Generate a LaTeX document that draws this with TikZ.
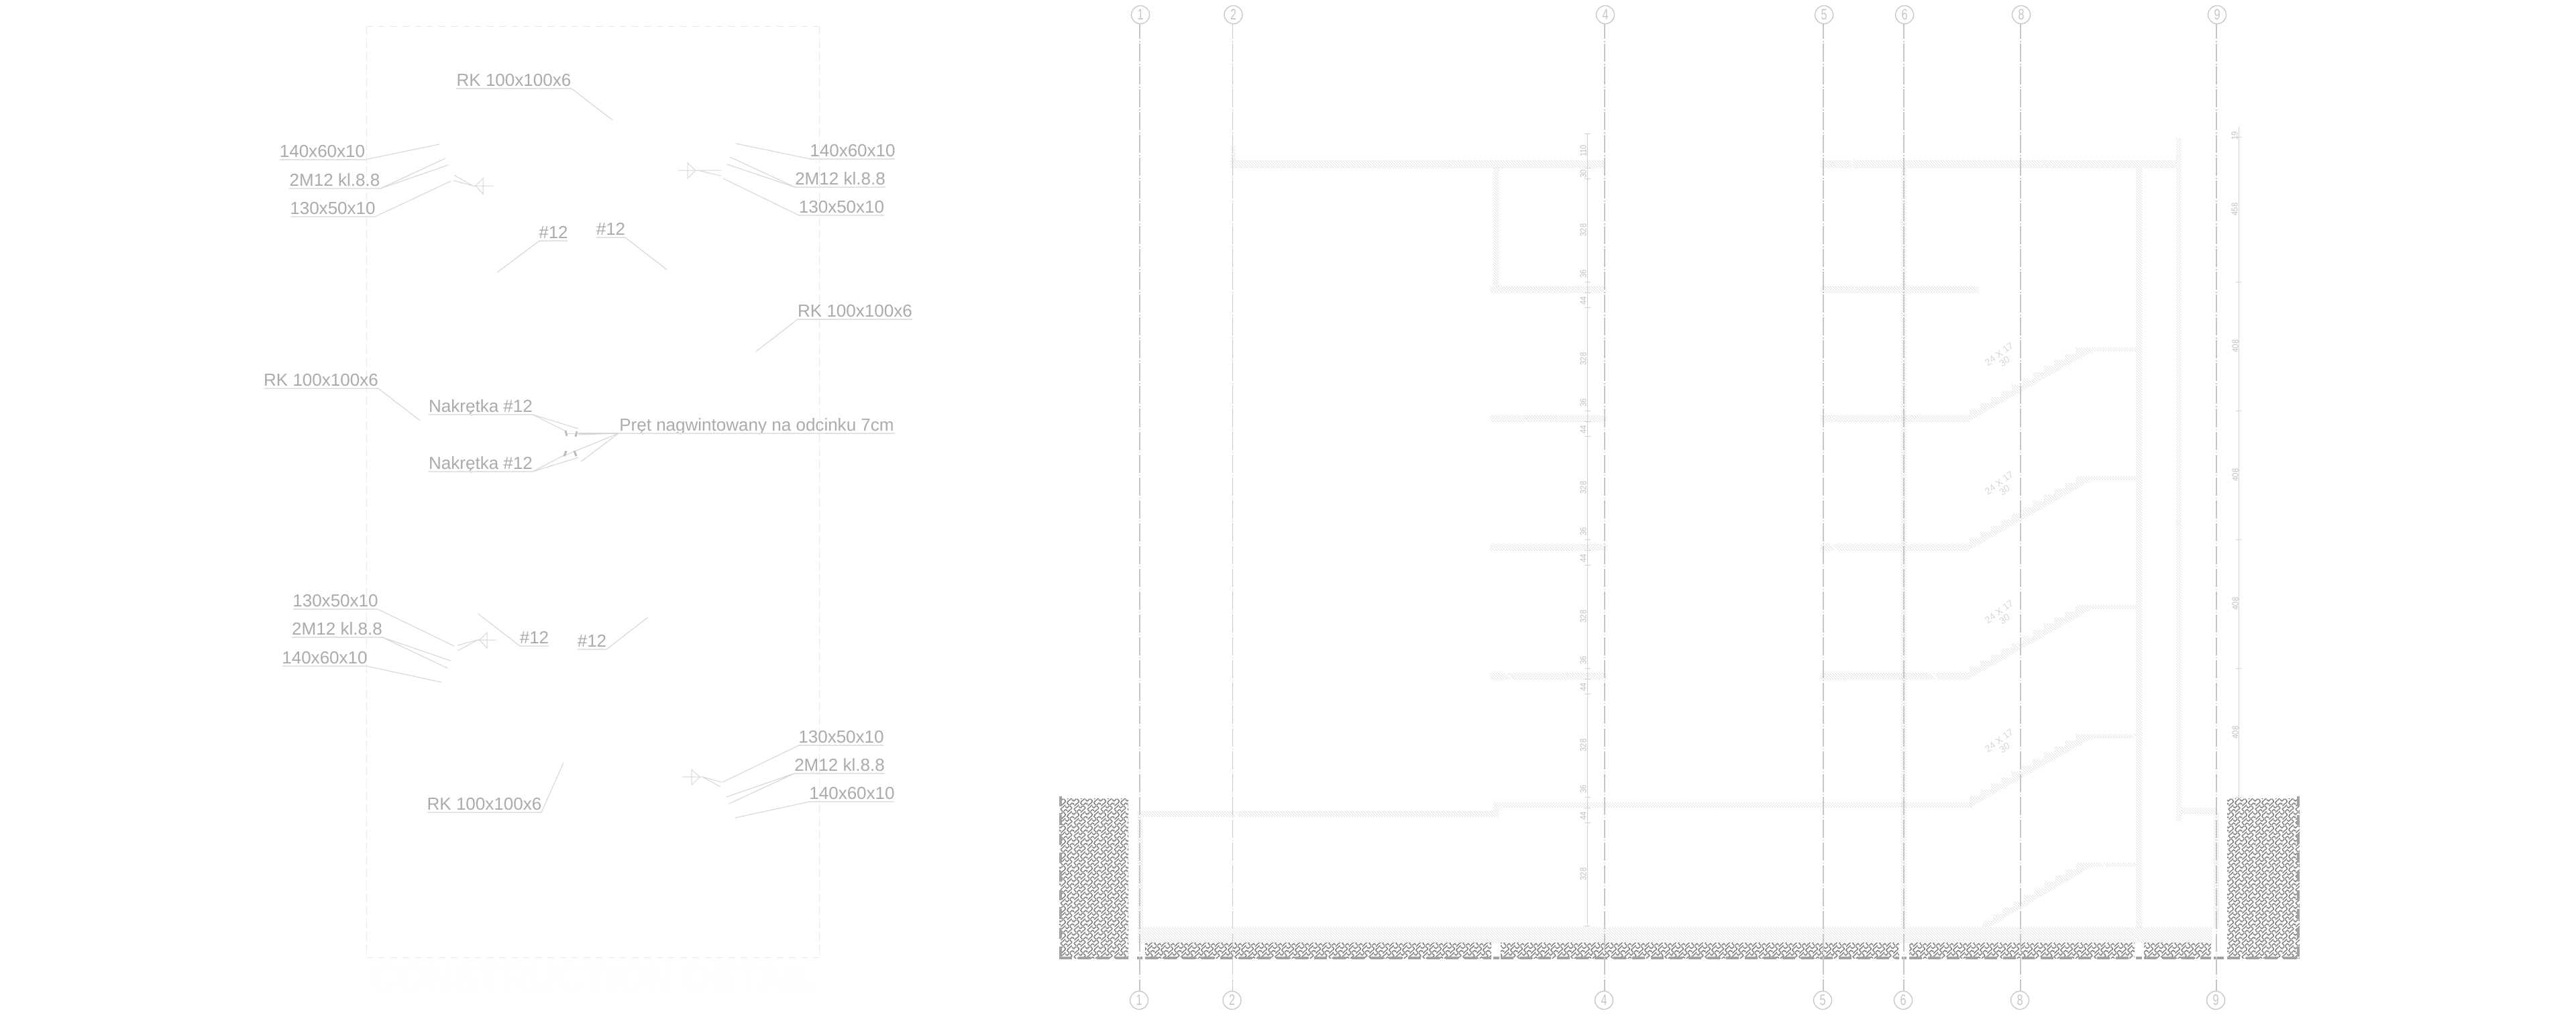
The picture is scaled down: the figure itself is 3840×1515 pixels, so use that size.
\documentclass[tikz,border=0pt]{standalone}
\usepackage{fontspec}
\usepackage{graphicx}
\setmainfont{Liberation Sans}
\usetikzlibrary{patterns,patterns.meta}
\definecolor{txtc}{HTML}{ABABAB}
\definecolor{leadc}{HTML}{D6D6D6}
\definecolor{underc}{HTML}{E2E2E2}
\definecolor{framec}{HTML}{EAEAEA}
\definecolor{gridc}{HTML}{C6C6C6}
\definecolor{hatchc}{HTML}{D9D9D9}
\definecolor{earthc}{HTML}{7E7E7E}
\definecolor{edgec}{HTML}{A2A2A2}
\definecolor{dimc}{HTML}{D0D0D0}
\definecolor{dimt}{HTML}{C0C0C0}
\definecolor{ghostc}{HTML}{FEFEFE}
\newcommand{\earthseg}[4]{\pgfpathmoveto{\pgfpoint{(#1)*0.2845pt}{(#2)*0.2845pt}}\pgfpathlineto{\pgfpoint{(#3)*0.2845pt}{(#4)*0.2845pt}}}
\newcommand{\earthpin}[2]{%
  \earthseg{#1+0.6}{#2+0.6}{#1+4}{#2+4}\earthseg{#1+4}{#2+4}{#1+6.5}{#2+1.5}%
  \earthseg{#1-0.6}{#2+0.6}{#1-4}{#2+4}\earthseg{#1-4}{#2+4}{#1-1.5}{#2+6.5}%
  \earthseg{#1-0.6}{#2-0.6}{#1-4}{#2-4}\earthseg{#1-4}{#2-4}{#1-6.5}{#2-1.5}%
  \earthseg{#1+0.6}{#2-0.6}{#1+4}{#2-4}\earthseg{#1+4}{#2-4}{#1+1.5}{#2-6.5}}
\newcommand{\earthfill}[2]{%
  \earthseg{#1-3.5}{#2-1}{#1+1}{#2+3.5}\earthseg{#1-1}{#2-3.5}{#1+3.5}{#2+1}}
\pgfdeclarepatternformonly{earthw}{\pgfpointorigin}{\pgfqpoint{5.69pt}{5.69pt}}{\pgfqpoint{5.69pt}{5.69pt}}{
  \pgfsetlinewidth{0.42pt}
  \earthpin{5}{5}\earthpin{25}{5}\earthpin{5}{25}\earthpin{25}{25}
  \earthpin{15}{15}\earthpin{-5}{15}\earthpin{15}{-5}\earthpin{-5}{-5}
  \earthfill{15}{5}\earthfill{5}{15}
  \pgfusepath{stroke}
}
\tikzset{
  lab/.style={text=txtc,font=\fontsize{7.4}{9}\selectfont,inner sep=0pt},
  under/.style={draw=underc,line width=0.016cm},
  leadline/.style={draw=leadc,line width=0.011cm},
  detail/.style={draw=leadc,line width=0.01cm},
  nut/.style={draw=txtc!80,line width=0.03cm},
  frameline/.style={draw=framec,line width=0.009cm,dash pattern=on 0.1cm off 0.08cm},
  frameside/.style={draw=framec,line width=0.009cm,dash pattern=on 0.14cm off 0.05cm},
  gridcore/.style={draw=gridc,dash pattern=on 0.27cm off 0.03cm on 0.015cm off 0.025cm,dash phase=0.05cm},
  gridbubble/.style={circle,draw=gridc,line width=0.013cm,minimum size=0.27cm,inner sep=0pt,text=gridc,font=\fontsize{6.4}{7}\selectfont},
  hatch/.style={pattern={Lines[angle=-45,distance=0.72pt,line width=0.26pt]},pattern color=hatchc},
  earth/.style={pattern=earthw,pattern color=earthc},
  edgeline/.style={draw=edgec,line width=0.04cm},
  dimline/.style={draw=dimc,line width=0.01cm},
  dimlab/.style={text=dimt,rotate=90,inner sep=0pt,font=\fontsize{3.7}{4}\selectfont},
  stairlab/.style={text=leadc,rotate=36,inner sep=0pt,font=\fontsize{4}{5}\selectfont},
}
\newcommand{\lab}[5]{%
  \node[lab,anchor=base] (#1) at ({(#2+#3)/2},{#4-3.5}) {#5};
  \coordinate (#1L) at (#2,#4);
  \coordinate (#1R) at (#3,#4);
  \draw[under] (#1L) -- (#1R);}
\newcommand{\ld}[3]{\draw[leadline] (#1) -- (#2,#3);}
\newcommand{\dimtxt}[1]{\scalebox{.86}[1]{#1}}
\newcommand{\gridaxis}[3]{%
  \coordinate (g#1) at (#2,0);
  \node[gridbubble] (t#1) at (#2+1,22) {\scalebox{.72}[1]{#1}};
  \node[gridbubble] (b#1) at (#2-1,1491) {\scalebox{.72}[1]{#1}};
  \draw[gridcore,line width=#3cm] (g#1 |- t#1.south) -- (g#1 |- b#1.north);}
\begin{document}
\begin{tikzpicture}[x=0.01cm,y=-0.01cm]
\useasboundingbox (0,0) rectangle (3840,1515);
\fill[white] (0,0) rectangle (3840,1515);

% ---------- left sheet
\draw[frameline] (546,39) -- (1221,39);
\draw[frameline] (546,1427) -- (1221,1427);
\draw[frameside] (546,39) -- (546,1427);
\draw[frameside] (1221,39) -- (1221,1427);
\node[text=ghostc,font=\fontsize{16}{18}\selectfont\bfseries,inner sep=0pt] (ghost) at (885,1458) {CONSTRUCTION DETAIL};

\lab{a1}{680}{852}{132}{RK 100x100x6}      \ld{a1R}{913}{179}
\lab{a2}{417}{544}{238}{140x60x10}         \ld{a2R}{655}{215}
\lab{a3}{431}{567}{281}{2M12 kl.8.8}       \ld{a3R}{664}{236} \ld{a3R}{668}{246}
\lab{a4}{433}{559}{323}{130x50x10}         \ld{a4R}{672}{270}
\lab{a5}{1208}{1334}{237}{140x60x10}       \ld{a5L}{1097}{214}
\lab{a6}{1185}{1320}{279}{2M12 kl.8.8}     \ld{a6L}{1088}{234} \ld{a6L}{1084}{245}
\lab{a7}{1191}{1318}{321}{130x50x10}       \ld{a7L}{1078}{266}
\lab{a8}{804}{846}{359}{\#12}              \ld{a8L}{741}{406}
\lab{a9}{889}{932}{354}{\#12}              \ld{a9R}{994}{402}
\lab{a10}{1189}{1360}{476}{RK 100x100x6}   \ld{a10L}{1127}{524}
\lab{b1}{393}{564}{579}{RK 100x100x6}      \ld{b1R}{626}{627}
\lab{b2}{639}{794}{618}{Nakrętka \#12}     \ld{b2R}{862}{639} \ld{b2R}{842}{642}
\lab{b3}{639}{794}{703}{Nakrętka \#12}     \ld{b3R}{862}{682} \ld{b3R}{842}{678}
\lab{b4}{922}{1334}{646}{Pręt nagwintowany na odcinku 7cm}
\ld{b4L}{862}{646} \ld{b4L}{862}{648} \ld{b4L}{839}{680} \ld{b4L}{866}{688}
\lab{c1}{437}{563}{908}{130x50x10}         \ld{c1R}{677}{963}
\lab{c2}{435}{570}{950}{2M12 kl.8.8}       \ld{c2R}{672}{985} \ld{c2R}{667}{996}
\lab{c3}{421}{547}{993}{140x60x10}         \ld{c3R}{658}{1017}
\lab{c4}{775}{818}{963}{\#12}              \ld{c4L}{713}{915}
\lab{c5}{861}{904}{968}{\#12}              \ld{c5R}{966}{920}
\lab{d1}{1191}{1317}{1111}{130x50x10}      \ld{d1L}{1077}{1166}
\lab{d2}{1184}{1319}{1153}{2M12 kl.8.8}    \ld{d2L}{1083}{1188} \ld{d2L}{1087}{1198}
\lab{d3}{1207}{1333}{1195}{140x60x10}      \ld{d3L}{1096}{1219}
\lab{d4}{637}{807}{1211}{RK 100x100x6}     \ld{d4R}{840}{1137}

% joint details
\draw[detail] (709,277) -- (720,266) -- (720,289) -- cycle;
\draw[detail] (705,277) -- (735,277) (677,261) -- (705,277) -- (676,269);
\draw[detail] (1025,243) -- (1037,254) -- (1025,266) -- cycle;
\draw[detail] (1011,254) -- (1075,254) (1040,254) -- (1075,262);
\draw[detail] (715,954) -- (726,943) -- (726,966) -- cycle;
\draw[detail] (712,954) -- (740,954) (682,962) -- (712,954) -- (682,970);
\draw[detail] (1031,1147) -- (1043,1158) -- (1031,1170) -- cycle;
\draw[detail] (1017,1158) -- (1047,1158) (1047,1158) -- (1074,1173) (1047,1158) -- (1076,1166);
% nuts
\draw[nut] (843,642) -- (845,650) (860,643) -- (858,651);
\draw[nut] (841,680) -- (844,672) (856,672) -- (859,680);
\draw[draw=leadc,line width=0.01cm] (845,646) -- (859,646);

% ---------- section: hatched concrete
\fill[hatch] (1835,217) rectangle (1842,239);
\fill[hatch] (1834,239) rectangle (2393,250);
\fill[hatch] (2714,239) rectangle (2759,250);
\fill[hatch] (2762,239) rectangle (3244,250);
\fill[hatch] (3244,206) rectangle (3252,1224);
\fill[hatch] (3252,1204) rectangle (3304,1212);
\fill[hatch] (3184,250) rectangle (3193,1382);
\fill[hatch] (2226,250) rectangle (2235,427);
\fill[hatch] (2834,250) rectangle (2842,1382);
% floors
\fill[hatch] (2221,427) rectangle (2396,436);
\fill[hatch] (2714,427) rectangle (2950,436);
\foreach \fy in {619.5,811.5,1003.5}{
  \fill[hatch] (2221,\fy) rectangle (2396,\fy+8.5);
  \fill[hatch] (2714,\fy) rectangle (2936,\fy+8.5);
}
% flights with stepped upper edge
\foreach \fy in {619.5,811.5,1003.5,1196}{
  \fill[hatch] (2936,\fy+8) -- (3118,\fy-95.5) -- (3184,\fy-95.5) -- (3184,\fy-101.5) -- (3110,\fy-101.5)
    \foreach \st in {10,9,...,0}{ -- (2936+\st*15.8,\fy-\st*9.2-9.2) -- (2936+\st*15.8,\fy-\st*9.2) } -- cycle;
}
\fill[hatch] (2965,1382) -- (3118,1292) -- (3184,1292) -- (3184,1286) -- (3110,1286)
   \foreach \st in {9,8,...,0}{ -- (2955+\st*15.5,1382-\st*9.6-9.6) -- (2955+\st*15.5,1382-\st*9.6) } -- cycle;
% ground storey
\fill[hatch] (1695,1209) -- (2226,1209) -- (2226,1196) -- (2939,1196) -- (2939,1204) -- (2235,1204) -- (2235,1218) -- (1695,1218) -- cycle;
\fill[hatch] (1696,1218) rectangle (1704,1382);
\fill[hatch] (3300,1212) rectangle (3308,1382);
\fill[hatch] (1696,1382) rectangle (3298,1405);

% ---------- earth
\fill[earth] (1579,1190) rectangle (1682,1428);
\fill[earth] (3320,1190) rectangle (3428,1428);
\foreach \xa/\xb in {1707/2223,2237/2831,2846/3182,3196/3296}{
  \fill[earth] (\xa,1405) rectangle (\xb,1428);
}
\draw[edgeline,dash pattern=on 0.15cm off 0.13cm] (1581,1187) -- (1581,1428);
\draw[edgeline,dash pattern=on 0.15cm off 0.13cm] (3426,1187) -- (3426,1428);
\foreach \xa/\xb in {1579/1682,1695/1703,1707/2223,2226/2235,2237/2831,2835/2842,2846/3182,3184/3193,3196/3296,3300/3315,3320/3428}{
  \draw[edgeline,dash pattern=on 0.19cm off 0.09cm] (\xa,1428) -- (\xb,1428);
}

% ---------- grid axes
\gridaxis{1}{1699}{0.022}
\gridaxis{2}{1837.5}{0.016}
\gridaxis{4}{2392}{0.02}
\gridaxis{5}{2718}{0.016}
\gridaxis{6}{2838}{0.016}
\gridaxis{8}{3012}{0.016}
\gridaxis{9}{3304}{0.022}

% ---------- left dimension chain
\draw[dimline] (2366,199) -- (2366,1380);
\foreach \ty in {199,250,266,420,436,458,612,628,650,804,820,842,996,1012,1034,1188,1204,1226,1380}{
  \draw[dimline] (2361.5,\ty) -- (2370.5,\ty);
}
\node[dimlab] (dA) at (2360,225) {\dimtxt{110}};
\node[dimlab] (dB) at (2360,259) {\dimtxt{30}};
\foreach \k [count=\n] in {0,1,2,3,4,5}{
  \node[dimlab] (dC\n) at (2360,343+192*\k) {\dimtxt{328}};
}
\foreach \k [count=\n] in {0,1,2,3,4}{
  \node[dimlab] (dD\n) at (2360,408+192*\k) {\dimtxt{36}};
}
\foreach \k [count=\n] in {0,1,2,3,4}{
  \node[dimlab] (dE\n) at (2360,448+192*\k) {\dimtxt{44}};
}
% ---------- right dimension chain
\draw[dimline] (3337,189) -- (3337,1189);
\foreach \ty in {204,420,612,804,996,1188}{
  \draw[dimline] (3332.5,\ty) -- (3341.5,\ty);
}
\node[dimlab] (dF) at (3331,202) {\dimtxt{19}};
\node[dimlab] (dG) at (3331,312) {\dimtxt{458}};
\foreach \k [count=\n] in {0,1,2,3}{
  \node[dimlab] (dH\n) at (3332,516+192*\k) {\dimtxt{408}};
}
% ---------- stair notes
\foreach \k [count=\n] in {0,1,2,3}{
  \node[stairlab] (sA\n) at (2980,528+192*\k) {24 X 17};
  \node[stairlab] (sB\n) at (2988,539+192*\k) {30};
}
\end{tikzpicture}
\end{document}
